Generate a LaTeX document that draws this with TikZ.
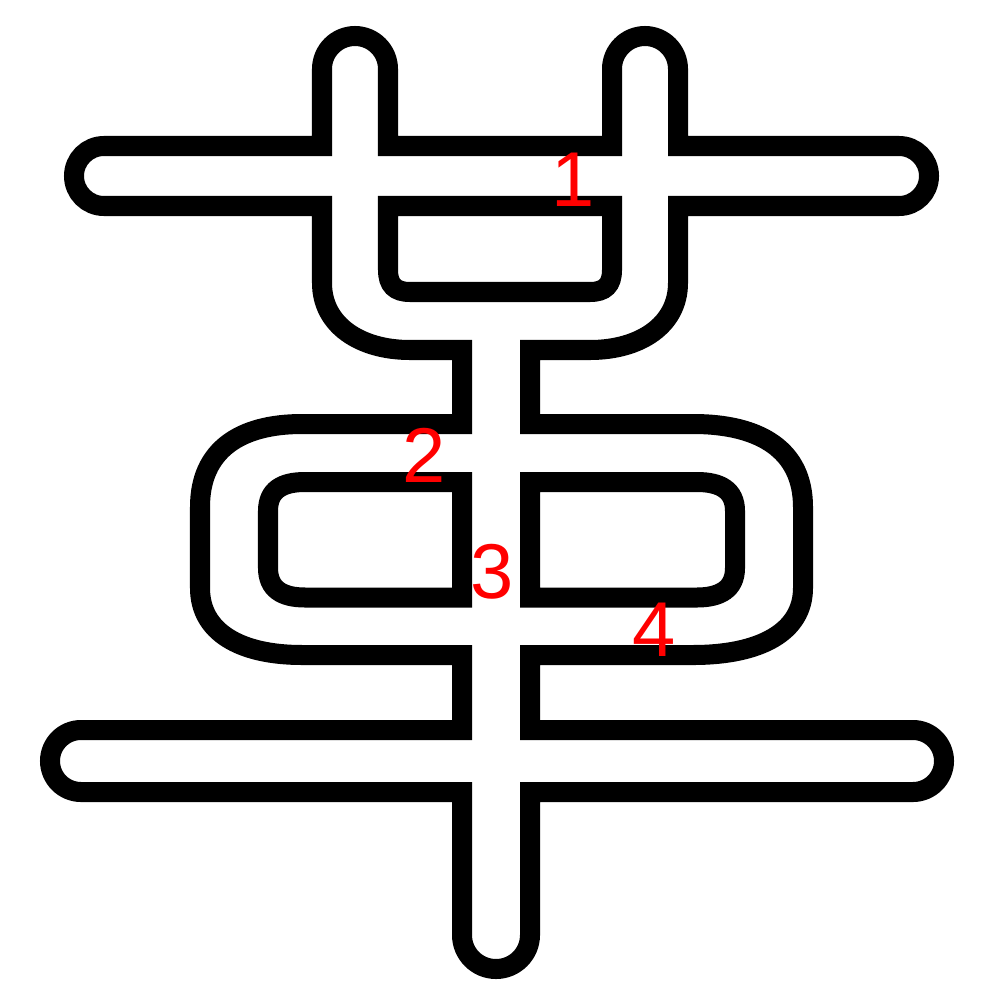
\documentclass[tikz,border=0pt]{standalone}
\usepackage{fontspec}
\setmainfont{Liberation Sans}
\begin{document}
\begin{tikzpicture}[x=0.01cm,y=-0.01cm,
  outline/.style={draw=black,line width=0.2cm,line join=miter},
  lbl/.style={text=red,font=\fontsize{22.1}{26}\selectfont,inner sep=0pt,anchor=base}]
\fill[white] (0,0) rectangle (1000,1000);
\useasboundingbox (0,0) rectangle (1000,1000);
% outer contour
\draw[outline] (104,146) -- (322,146) -- (322,69)
 .. controls (322,50.8) and (336.8,36) .. (355,36)
 .. controls (373.2,36) and (388,50.8) .. (388,69)
 -- (388,146) -- (612,146) -- (612,69)
 .. controls (612,50.8) and (626.8,36) .. (645,36)
 .. controls (663.2,36) and (678,50.8) .. (678,69)
 -- (678,146) -- (899,146)
 .. controls (915.6,146) and (929,159.4) .. (929,176)
 .. controls (929,192.6) and (915.6,206) .. (899,206)
 -- (678,206) -- (678,283)
 .. controls (678,325) and (640,350) .. (590,350)
 -- (530,350) -- (530,424) -- (693,424)
 .. controls (760,424) and (803,450) .. (803,507)
 -- (803,588)
 .. controls (803,632) and (760,655) .. (693,655)
 -- (530,655) -- (530,730) -- (913,730)
 .. controls (930.1,730) and (944,743.9) .. (944,761)
 .. controls (944,778.1) and (930.1,792) .. (913,792)
 -- (530,792) -- (530,935)
 .. controls (530,953.8) and (514.8,969) .. (496,969)
 .. controls (477.2,969) and (462,953.8) .. (462,935)
 -- (462,792) -- (81,792)
 .. controls (63.9,792) and (50,778.1) .. (50,761)
 .. controls (50,743.9) and (63.9,730) .. (81,730)
 -- (462,730) -- (462,655) -- (302,655)
 .. controls (240,655) and (200,632) .. (200,588)
 -- (200,507)
 .. controls (200,450) and (240,424) .. (302,424)
 -- (462,424) -- (462,350) -- (410,350)
 .. controls (360,350) and (322,325) .. (322,283)
 -- (322,206) -- (104,206)
 .. controls (87.4,206) and (74,192.6) .. (74,176)
 .. controls (74,159.4) and (87.4,146) .. cycle;
% hole of the upper part
\draw[outline] (388,206) -- (612,206) -- (612,270)
 .. controls (612,285) and (605,292) .. (590,292)
 -- (410,292)
 .. controls (395,292) and (388,285) .. (388,270) -- cycle;
% left hole of the box
\draw[outline] (462,482) -- (462,597.5) -- (305,597.5)
 .. controls (282,597.5) and (268,589) .. (268,568)
 -- (268,511)
 .. controls (268,490) and (282,482) .. (305,482) -- cycle;
% right hole of the box
\draw[outline] (530,482) -- (697,482)
 .. controls (720,482) and (735,490) .. (735,511)
 -- (735,568)
 .. controls (735,589) and (720,597.5) .. (697,597.5)
 -- (530,597.5) -- cycle;
% labels
\node[lbl] (l1) at (573,206) {1};
\node[lbl] (l2) at (424,482) {2};
\node[lbl] (l3) at (492,598) {3};
\node[lbl] (l4) at (654,656) {4};
\end{tikzpicture}
\end{document}
